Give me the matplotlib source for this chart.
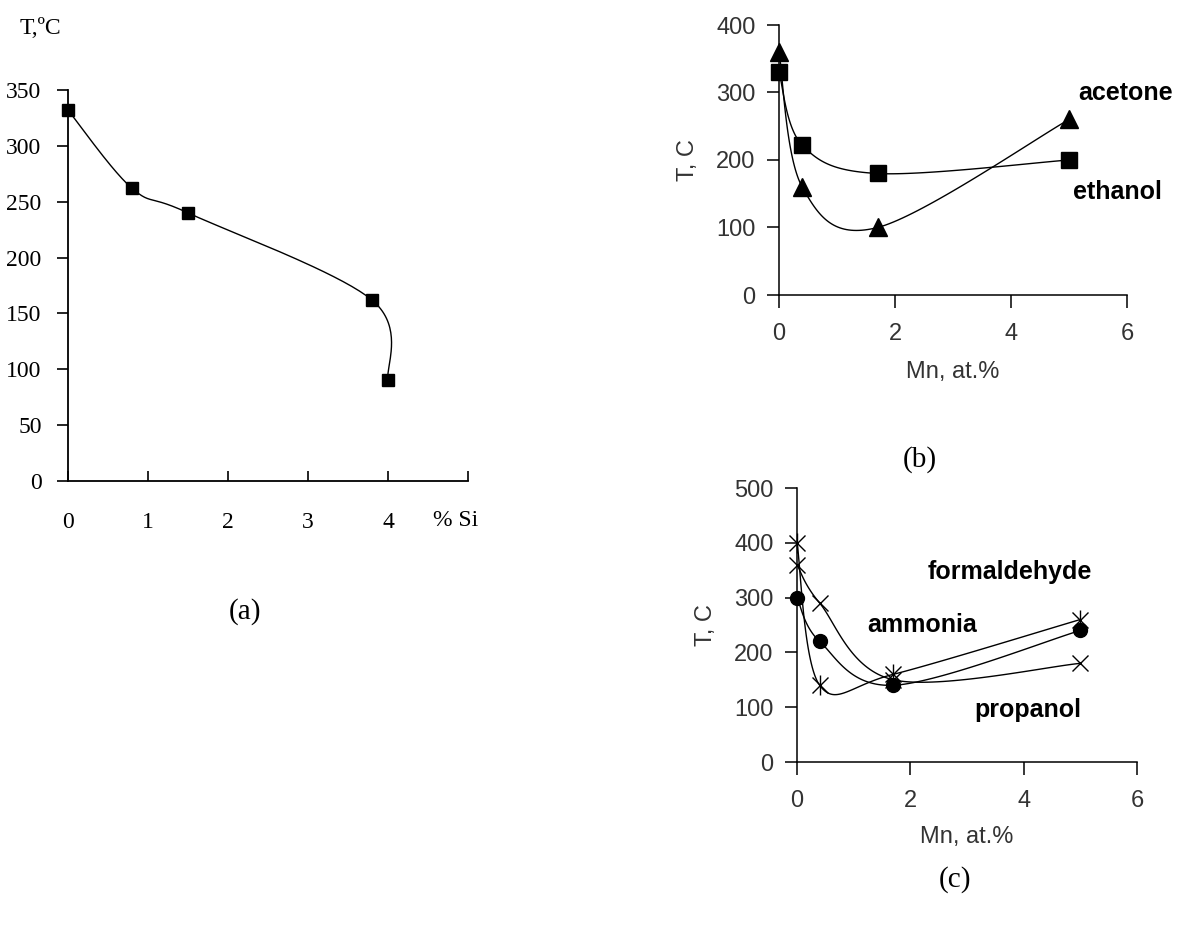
import numpy as np
import matplotlib
matplotlib.use("Agg")
import matplotlib.pyplot as plt

# panel (a): transition temperature vs Si content
si_x = [0.0, 0.8, 1.5, 3.8, 4.0]
si_t = [332, 262, 240, 162, 90]

# panel (b): Mn content, ethanol / acetone
mn_x = [0.0, 0.4, 1.7, 5.0]
ethanol_t = [330, 222, 180, 200]
acetone_t = [360, 160, 100, 260]

# panel (c): Mn content, three gases
ammonia_t = [300, 220, 140, 240]
xmark_t = [360, 290, 150, 180]
star_t = [400, 140, 160, 260]


def smooth(x, y, sx, sy, n=40):
    # Excel-like smoothed line: bezier through points, computed in pixel space
    p = np.column_stack([np.asarray(x, float) * sx, np.asarray(y, float) * sy])
    pts = np.vstack([p[0], p, p[-1]])
    out = []
    t = np.linspace(0, 1, n)[:, None]
    for i in range(1, len(pts) - 2):
        p0, p1, p2, p3 = pts[i - 1], pts[i], pts[i + 1], pts[i + 2]
        c1 = p1 + (p2 - p0) / 6.0
        c2 = p2 - (p3 - p1) / 6.0
        seg = ((1 - t) ** 3) * p1 + 3 * ((1 - t) ** 2) * t * c1 + 3 * (1 - t) * t ** 2 * c2 + t ** 3 * p2
        out.append(seg)
    out = np.vstack(out)
    return out[:, 0] / sx, out[:, 1] / sy


W, H = 1179, 930
fig = plt.figure(figsize=(W / 100, H / 100), dpi=100)
fig.patch.set_facecolor("white")

serif = "Liberation Serif"
sans = "Liberation Sans"
grey = "#333333"


def box(l, t, r, b):
    return [l / W, 1 - b / H, (r - l) / W, (b - t) / H]


# ---------------- (a)
ax1 = fig.add_axes(box(68, 90, 468, 481))
ax1.set_xlim(0, 5)
ax1.set_ylim(0, 350)
for s in ["top", "right"]:
    ax1.spines[s].set_visible(False)
for s in ["left", "bottom"]:
    ax1.spines[s].set_linewidth(1.3)
cx, cy = smooth(si_x, si_t, 80, 391 / 350)
ax1.plot(cx, cy, color="black", lw=1.0, clip_on=False)
ax1.plot(si_x, si_t, "s", color="black", ms=8, clip_on=False)
ax1.set_yticks(range(0, 351, 50))
ax1.set_xticks(range(0, 6))
ax1.set_xticklabels(["0", "1", "2", "3", "4", ""])
ax1.tick_params(axis="y", direction="out", length=8, width=1.2, pad=11,
                labelsize=17)
ax1.tick_params(axis="x", direction="in", length=7, width=1.2, pad=22,
                labelsize=17)
for lab in ax1.get_xticklabels() + ax1.get_yticklabels():
    lab.set_fontfamily(serif)
ax1.text(4.85, -0.1, "% Si", transform=ax1.get_xaxis_transform(),
         ha="center", va="center", fontsize=17, family=serif)
fig.text(40 / W, 1 - 29 / H, "T,ºC", ha="center", va="center",
         fontsize=17, family=serif)
fig.text(245 / W, 1 - 612 / H, "(a)", ha="center", va="center",
         fontsize=21, family=serif)

# ---------------- (b)
ax2 = fig.add_axes(box(779, 25, 1127, 295))
ax2.set_xlim(0, 6)
ax2.set_ylim(0, 400)
for s in ["top", "right"]:
    ax2.spines[s].set_visible(False)
for s in ["left", "bottom"]:
    ax2.spines[s].set_linewidth(1.1)
sx2, sy2 = 348 / 6, 270 / 400
cx, cy = smooth(mn_x, ethanol_t, sx2, sy2)
ax2.plot(cx, cy, color="black", lw=1.0, clip_on=False)
cx, cy = smooth(mn_x, acetone_t, sx2, sy2)
ax2.plot(cx, cy, color="black", lw=1.0, clip_on=False)
ax2.plot(mn_x, ethanol_t, "s", color="black", ms=11, clip_on=False)
ax2.plot(mn_x, acetone_t, "^", color="black", ms=12.5, clip_on=False)
ax2.set_xticks([0, 2, 4, 6])
ax2.set_yticks(range(0, 401, 100))
ax2.tick_params(direction="out", length=9, width=1.1, labelsize=17,
                labelcolor=grey)
ax2.tick_params(axis="x", pad=11)
ax2.tick_params(axis="y", pad=8)
for lab in ax2.get_xticklabels() + ax2.get_yticklabels():
    lab.set_fontfamily(sans)
ax2.set_xlabel("Mn, at.%", fontsize=17, family=sans, color=grey, labelpad=12)
ax2.set_ylabel("T, C", fontsize=17, family=sans, color=grey, labelpad=12)
ax2.text(5.97, 299, "acetone", ha="center", va="center", fontsize=18,
         fontweight="bold", family=sans)
ax2.text(5.84, 153, "ethanol", ha="center", va="center", fontsize=18,
         fontweight="bold", family=sans)
fig.text(920 / W, 1 - 460 / H, "(b)", ha="center", va="center",
         fontsize=21, family=serif)

# ---------------- (c)
ax3 = fig.add_axes(box(797, 488, 1137, 762))
ax3.set_xlim(0, 6)
ax3.set_ylim(0, 500)
for s in ["top", "right"]:
    ax3.spines[s].set_visible(False)
for s in ["left", "bottom"]:
    ax3.spines[s].set_linewidth(1.1)
sx3, sy3 = 340 / 6, 274 / 500
for series in [ammonia_t, xmark_t, star_t]:
    cx, cy = smooth(mn_x, series, sx3, sy3)
    ax3.plot(cx, cy, color="black", lw=1.0, clip_on=False)
ax3.plot(mn_x, ammonia_t, "o", color="black", ms=10, clip_on=False)
ax3.plot(mn_x, xmark_t, "x", color="black", ms=12, mew=1.0, clip_on=False)
ax3.plot(mn_x, star_t, "x", color="black", ms=12, mew=1.0, clip_on=False)
ax3.plot(mn_x, star_t, "|", color="black", ms=15, mew=1.0, clip_on=False)
ax3.set_xticks([0, 2, 4, 6])
ax3.set_yticks(range(0, 501, 100))
ax3.tick_params(direction="out", length=9, width=1.1, labelsize=17,
                labelcolor=grey)
ax3.tick_params(axis="x", pad=11)
ax3.tick_params(axis="y", pad=8)
for lab in ax3.get_xticklabels() + ax3.get_yticklabels():
    lab.set_fontfamily(sans)
ax3.set_xlabel("Mn, at.%", fontsize=17, family=sans, color=grey, labelpad=10)
ax3.set_ylabel("T, C", fontsize=17, family=sans, color=grey, labelpad=12)
ax3.text(3.76, 347, "formaldehyde", ha="center", va="center", fontsize=18,
         fontweight="bold", family=sans)
ax3.text(2.21, 250, "ammonia", ha="center", va="center", fontsize=18,
         fontweight="bold", family=sans)
ax3.text(4.08, 95, "propanol", ha="center", va="center", fontsize=18,
         fontweight="bold", family=sans)
fig.text(955 / W, 1 - 880 / H, "(c)", ha="center", va="center",
         fontsize=21, family=serif)

fig.savefig("out.png", dpi=100, facecolor="white")
